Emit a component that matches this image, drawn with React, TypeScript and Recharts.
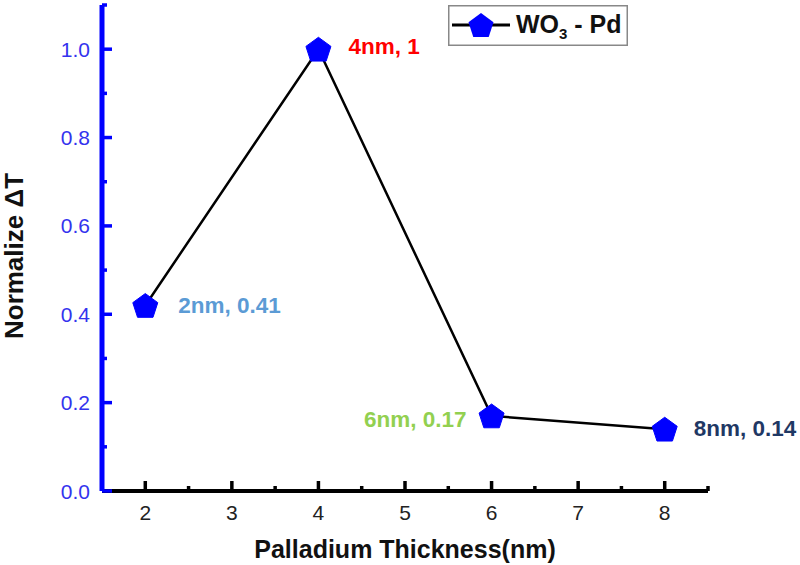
import React from 'react';
import { LineChart, Line, XAxis, YAxis, Legend, LabelList, ReferenceLine } from 'recharts';

const thickness = [2, 4, 6, 8];
const normalizedDT = [0.42, 1.0, 0.17, 0.14];
const annotationTexts = ['2nm, 0.41', '4nm, 1', '6nm, 0.17', '8nm, 0.14'];
const annotationColors = ['#5b9bd5', '#ff0000', '#92d050', '#1f3864'];
const xTicks = [2, 2.5, 3, 3.5, 4, 4.5, 5, 5.5, 6, 6.5, 7, 7.5, 8, 8.5];
const yTicks = [0, 0.1, 0.2, 0.3, 0.4, 0.5, 0.6, 0.7, 0.8, 0.9, 1.0, 1.1];
const majorX = [2, 3, 4, 5, 6, 7, 8];
const majorY = [0, 0.2, 0.4, 0.6, 0.8, 1.0];
const xDomain = [1.5, 8.5];
const yDomain = [0, 1.1];

const data = thickness.map((t, i) => ({ t, v: normalizedDT[i] }));

const annotationPlacement = [
  { dx: 33, dy: 8, anchor: 'start' },
  { dx: 30, dy: 5, anchor: 'start' },
  { dx: -25, dy: 11, anchor: 'end' },
  { dx: 29, dy: 7, anchor: 'start' },
];

const FONT = 'Liberation Sans, Arial, sans-serif';

function pentagonPoints(cx: number, cy: number, w: number) {
  const R = w / 1.902;
  const h = R * 1.809;
  const oy = cy - h / 2 + R;
  const pts: string[] = [];
  for (let k = 0; k < 5; k++) {
    const a = -Math.PI / 2 + (k * 2 * Math.PI) / 5;
    pts.push(`${cx + R * Math.cos(a)},${oy + R * Math.sin(a)}`);
  }
  return pts.join(' ');
}

const PentagonDot = (props: any) => {
  const { cx, cy, index } = props;
  if (cx == null || cy == null) return null;
  return <polygon key={`p-${index}`} points={pentagonPoints(cx, cy, 25)} fill="#0000ff" stroke="#0000ff" strokeWidth={1} />;
};

const XTick = (props: any) => {
  const { x, y, payload } = props;
  const v = payload.value;
  const major = majorX.includes(v);
  return (
    <g>
      <line x1={x} x2={x} y1={y} y2={y - (major ? 10 : 5)} stroke="#000" strokeWidth={3.5} />
      {major && (
        <text x={x} y={y + 29} textAnchor="middle" fontSize={21} fontFamily={FONT} fill="#222">
          {v}
        </text>
      )}
    </g>
  );
};

const YTick = (props: any) => {
  const { x, y, payload } = props;
  const v = payload.value;
  const major = majorY.some((m) => Math.abs(m - v) < 1e-6);
  return (
    <g>
      <line x1={x} x2={x + (major ? 10 : 5)} y1={y} y2={y} stroke="#0000ff" strokeWidth={3.5} />
      {major && (
        <text x={x - 12} y={y + 7.5} textAnchor="end" fontSize={21} fontFamily={FONT} fill="#3333ee">
          {v.toFixed(1)}
        </text>
      )}
    </g>
  );
};

const AnnotationLabel = (props: any) => {
  const { x, y, index } = props;
  const p = annotationPlacement[index];
  return (
    <text
      x={x + p.dx}
      y={y + p.dy}
      textAnchor={p.anchor}
      fontSize={22.5}
      fontWeight="bold"
      fontFamily={FONT}
      fill={annotationColors[index]}
    >
      {annotationTexts[index]}
    </text>
  );
};

const YAxisTitle = () => (
  <text
    x={23}
    y={256}
    transform="rotate(-90, 23, 256)"
    textAnchor="middle"
    fontSize={26}
    fontWeight="bold"
    fontFamily={FONT}
    fill="#111"
  >
    Normalize ΔT
  </text>
);

const LegendContent = () => (
  <svg width={180} height={41} style={{ display: 'block' }}>
    <rect x={0.75} y={0.75} width={178.5} height={39.5} fill="#fff" stroke="#888" strokeWidth={1.5} />
    <line x1={4} x2={62} y1={20} y2={20} stroke="#000" strokeWidth={3} />
    <polygon points={pentagonPoints(33, 20, 25)} fill="#0000ff" />
    <text x={68} y={28} fontSize={25} fontWeight="bold" fontFamily={FONT} fill="#111">
      WO<tspan fontSize={15} dy={6}>3</tspan>
      <tspan dy={-6}> - Pd</tspan>
    </text>
  </svg>
);

export default function App() {
  return (
    <div style={{ position: 'absolute', left: 0, top: 0, width: 800, height: 565, background: '#fff' }}>
      <LineChart width={800} height={565} data={data} margin={{ top: 5, right: 92, bottom: 0, left: 0 }}>
        <XAxis
          dataKey="t"
          type="number"
          domain={xDomain}
          ticks={xTicks}
          interval={0}
          height={74}
          tickSize={0}
          tickMargin={0}
          tickLine={false}
          tick={<XTick />}
          axisLine={false}
          label={{
            value: 'Palladium Thickness(nm)',
            position: 'insideBottom',
            offset: 7,
            fontSize: 25,
            fontWeight: 'bold',
            fontFamily: FONT,
            fill: '#111',
          }}
        />
        <YAxis
          type="number"
          domain={yDomain}
          ticks={yTicks}
          interval={0}
          width={102}
          tickSize={0}
          tickMargin={0}
          tickLine={false}
          tick={<YTick />}
          axisLine={false}
          label={<YAxisTitle />}
        />
        <ReferenceLine y={yDomain[0]} stroke="#000" strokeWidth={4} ifOverflow="visible" />
        <ReferenceLine x={xDomain[0]} stroke="#0000ff" strokeWidth={5} ifOverflow="visible" />
        <Legend
          layout="horizontal"
          verticalAlign="middle"
          align="center"
          content={<LegendContent />}
          wrapperStyle={{ position: 'absolute', left: 448, top: 5, width: 180, height: 41 }}
        />
        <Line
          dataKey="v"
          name="WO3 - Pd"
          stroke="#000"
          strokeWidth={2.5}
          dot={PentagonDot}
          activeDot={false}
          isAnimationActive={false}
        >
          <LabelList dataKey="v" content={<AnnotationLabel />} />
        </Line>
      </LineChart>
    </div>
  );
}
